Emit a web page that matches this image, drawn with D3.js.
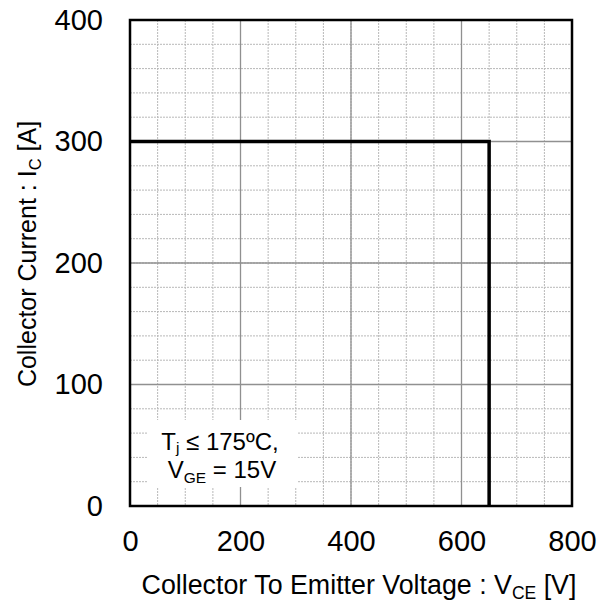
<!DOCTYPE html>
<html>
<head>
<meta charset="utf-8">
<script src="https://cdn.jsdelivr.net/npm/d3@7"></script>
<style>
  body { margin: 0; background: #fff; }
  text { font-family: "Liberation Sans", Arial, sans-serif; fill: #000; }
</style>
</head>
<body>
<div id="chart"></div>
<script>
// data
var vce = [0, 650, 650];          // V
var ic = [300, 300, 0];           // A
var xTicks = [0, 200, 400, 600, 800];
var yTicks = [0, 100, 200, 300, 400];
var xMinor = d3.range(0, 801, 50);
var yMinor = d3.range(0, 401, 20);

var svgWidth = 607;
var svgHeight = 603;
var margin = { top: 20, right: 35, bottom: 97, left: 130 };
var width = svgWidth - margin.left - margin.right;
var height = svgHeight - margin.top - margin.bottom;

var svg = d3.select("#chart")
  .append("svg")
  .attr("width", svgWidth)
  .attr("height", svgHeight);

var chartGroup = svg.append("g")
  .attr("transform", `translate(${margin.left}, ${margin.top})`);

var x = d3.scaleLinear().domain([0, 800]).range([0, width]);
var y = d3.scaleLinear().domain([0, 400]).range([height, 0]);

// minor grid (dashed)
chartGroup.append("g")
  .selectAll("line.vminor")
  .data(xMinor)
  .enter()
  .append("line")
  .attr("x1", d => x(d)).attr("x2", d => x(d))
  .attr("y1", 0).attr("y2", height)
  .attr("stroke", "#b8b8b8")
  .attr("stroke-width", 1)
  .attr("stroke-dasharray", "2,1");

chartGroup.append("g")
  .selectAll("line.hminor")
  .data(yMinor)
  .enter()
  .append("line")
  .attr("x1", 0).attr("x2", width)
  .attr("y1", d => y(d)).attr("y2", d => y(d))
  .attr("stroke", "#b8b8b8")
  .attr("stroke-width", 1)
  .attr("stroke-dasharray", "2,1");

// major grid
chartGroup.append("g")
  .selectAll("line")
  .data(xTicks)
  .enter()
  .append("line")
  .attr("x1", d => x(d)).attr("x2", d => x(d))
  .attr("y1", 0).attr("y2", height)
  .attr("stroke", "#909090")
  .attr("stroke-width", 1.3);

chartGroup.append("g")
  .selectAll("line")
  .data(yTicks)
  .enter()
  .append("line")
  .attr("x1", 0).attr("x2", width)
  .attr("y1", d => y(d)).attr("y2", d => y(d))
  .attr("stroke", "#909090")
  .attr("stroke-width", 1.3);

// annotation box (covers grid)
chartGroup.append("rect")
  .attr("x", 17).attr("y", 400)
  .attr("width", 150).attr("height", 67)
  .attr("fill", "#fff");

// SOA line
var line = d3.line()
  .x((d, i) => x(vce[i]))
  .y((d, i) => y(ic[i]));

chartGroup.append("path")
  .datum(vce)
  .attr("d", line)
  .attr("fill", "none")
  .attr("stroke", "#000")
  .attr("stroke-width", 3.5);

// frame
chartGroup.append("rect")
  .attr("width", width)
  .attr("height", height)
  .attr("fill", "none")
  .attr("stroke", "#000")
  .attr("stroke-width", 2.5);

// axes
var bottomAxis = d3.axisBottom(x).tickValues(xTicks).tickSize(0).tickPadding(24);
var leftAxis = d3.axisLeft(y).tickValues(yTicks).tickSize(0).tickPadding(27);

var xg = chartGroup.append("g")
  .attr("transform", `translate(0, ${height})`)
  .call(bottomAxis);
var yg = chartGroup.append("g")
  .call(leftAxis);

[xg, yg].forEach(function(g) {
  g.select(".domain").remove();
  g.selectAll("text")
    .style("font-family", "'Liberation Sans', Arial, sans-serif")
    .style("font-size", "29px")
    .attr("fill", "#000");
});

// axis titles
var xTitle = svg.append("text")
  .attr("x", 359)
  .attr("y", 594)
  .attr("text-anchor", "middle")
  .style("font-size", "26.8px");
xTitle.append("tspan").text("Collector To Emitter Voltage : V");
xTitle.append("tspan").attr("dy", 5).style("font-size", "17.5px").text("CE");
xTitle.append("tspan").attr("dy", -5).text(" [V]");

var yTitle = svg.append("text")
  .attr("transform", "translate(36, 254) rotate(-90)")
  .attr("text-anchor", "middle")
  .style("font-size", "25px");
yTitle.append("tspan").text("Collector Current : I");
yTitle.append("tspan").attr("dy", 5).style("font-size", "16.5px").text("C");
yTitle.append("tspan").attr("dy", -5).text(" [A]");

// annotation
var note1 = chartGroup.append("text")
  .attr("x", 90)
  .attr("y", 430)
  .attr("text-anchor", "middle")
  .style("font-size", "24px");
note1.append("tspan").text("T");
note1.append("tspan").attr("dy", 3).style("font-size", "15.5px").text("j");
note1.append("tspan").attr("dy", -3).text(" \u2264 175\u00baC,");

var note2 = chartGroup.append("text")
  .attr("x", 92)
  .attr("y", 458)
  .attr("text-anchor", "middle")
  .style("font-size", "24px");
note2.append("tspan").text("V");
note2.append("tspan").attr("dy", 5).style("font-size", "15.5px").text("GE");
note2.append("tspan").attr("dy", -5).text(" = 15V");
</script>
</body>
</html>
